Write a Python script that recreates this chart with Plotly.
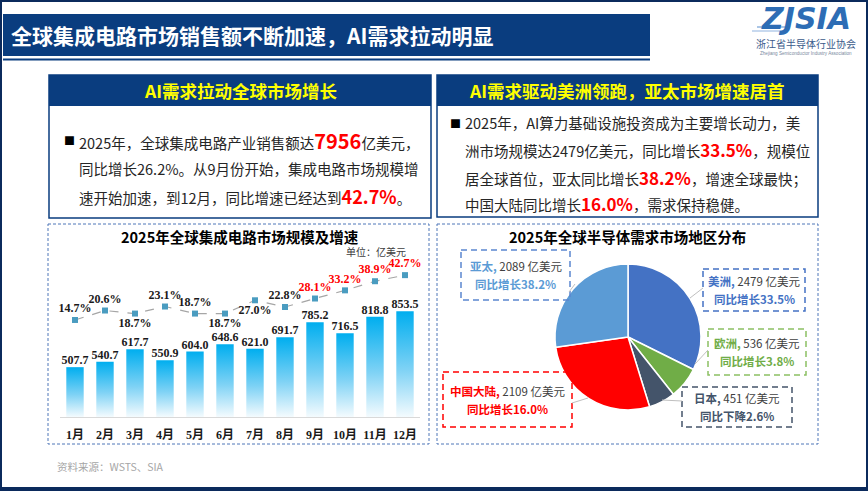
import plotly.graph_objects as go

# Données du graphique
mois = ['1月', '2月', '3月', '4月', '5月', '6月', '7月', '8月', '9月', '10月', '11月', '12月']
ventes = [507.7, 540.7, 617.7, 550.9, 604.0, 648.6, 621.0, 691.7, 785.2, 716.5, 818.8, 853.5]
croissance = [14.7, 20.6, 18.7, 23.1, 18.7, 18.7, 27.0, 22.8, 28.1, 33.2, 38.9, 42.7]

regions = ['美洲', '欧洲', '日本', '中国大陆', '亚太']
demande = [2479, 536, 451, 2109, 2089]
evol_region = ['同比增长33.5%', '同比增长3.8%', '同比下降2.6%', '同比增长16.0%', '同比增长38.2%']
couleurs_region = ['#4472c4', '#70ad47', '#44546a', '#ff0000', '#5b9bd5']

W, H = 868, 491
NAVY = '#0a3d7f'
CJK = 'Noto Sans CJK SC'
SERIF = 'Liberation Serif, Noto Sans CJK SC'


def fx(p):
    return p / W


def fy(p):
    return 1 - p / H


annotations = []
shapes = []


def texte(x, y, s, size, color='#262626', anchor='center', family=CJK):
    annotations.append(dict(x=fx(x), y=fy(y), xref='paper', yref='paper', text=s,
                            showarrow=False, xanchor=anchor, yanchor='middle',
                            font=dict(size=size, color=color, family=family)))


def rect(x0, y0, x1, y1, line=None, fill=None, dash=None, width=1):
    shapes.append(dict(type='rect', xref='paper', yref='paper',
                       x0=fx(x0), x1=fx(x1), y0=fy(y0), y1=fy(y1),
                       line=dict(color=line or 'rgba(0,0,0,0)', width=width if line else 0, dash=dash),
                       fillcolor=fill or 'rgba(0,0,0,0)', layer='below' if fill else 'above'))


def ligne(x0, y0, x1, y1, color, width=1):
    shapes.append(dict(type='line', xref='paper', yref='paper',
                       x0=fx(x0), x1=fx(x1), y0=fy(y0), y1=fy(y1),
                       line=dict(color=color, width=width)))


fig = go.Figure()

# Barres en dégradé (une trace par mois)
for i, v in enumerate(ventes):
    fig.add_trace(go.Scatter(
        x=[i - 0.29, i + 0.29, i + 0.29, i - 0.29, i - 0.29],
        y=[200, 200, v, v, 200], mode='lines', fill='toself',
        line=dict(width=0, color='rgba(0,0,0,0)'),
        fillgradient=dict(type='vertical',
                          colorscale=[[0, '#f4fbfe'], [0.45, '#7ed2f5'], [1, '#00aeef']]),
        hoverinfo='skip'))

fig.add_trace(go.Scatter(
    x=list(range(12)), y=ventes, mode='text', text=['<b>%.1f</b>' % v for v in ventes],
    textposition='top center', cliponaxis=False,
    textfont=dict(family=SERIF, size=12, color='#1a1a1a')))

pos = ['top center', 'top center', 'bottom center', 'top center', 'top center', 'bottom center',
       'bottom center', 'top center', 'top center', 'top center', 'top center', 'top center']
col = ['#1a1a1a'] * 8 + ['#ff0000'] * 4
fig.add_trace(go.Scatter(
    x=list(range(12)), y=croissance, yaxis='y2', mode='lines+markers+text',
    line=dict(color='#a6a6a6', width=1.2, dash='dash'),
    marker=dict(symbol='square', size=6, color='#4a9cc0'),
    text=['<b>%.1f%%</b>' % g for g in croissance], textposition=pos, cliponaxis=False,
    textfont=dict(family=SERIF, size=12, color=col)))

# Camembert
fig.add_trace(go.Pie(
    labels=regions, values=demande, sort=False, direction='clockwise', rotation=0,
    textinfo='none', hoverinfo='label+value',
    marker=dict(colors=couleurs_region, line=dict(color='white', width=1.5)),
    domain=dict(x=[fx(555), fx(701)], y=[fy(410), fy(264)])))

# Cadre général et bandeau titre
rect(1, 1, 867, 489, line='#0b2a5c', width=2)
rect(0, 487, 868, 491, fill='#0b2a5c')
rect(3, 14, 650, 56, fill=NAVY)
ligne(3, 59.5, 650, 59.5, NAVY, 2)
texte(9, 35, '<b>全球集成电路市场销售额不断加速，AI需求拉动明显</b>', 21, 'white', 'left')

# Logo
ligne(757, 27, 790, 27, '#8fb3de', 1.5)
ligne(752, 31, 786, 31, '#b6cdea', 1.5)
texte(806, 19, '<b><i>ZJSIA</i></b>', 30, '#2d6db5', family='DejaVu Sans')
texte(806, 44, '浙江省半导体行业协会', 10, '#3a5a8a')
texte(806, 53, 'Zhejiang Semiconductor Industry Association', 4.6, '#7a8aa0', family='Liberation Sans')

# Panneaux de texte
rect(49, 75, 431, 218, line=NAVY, width=1.5)
rect(49, 75, 431, 106, fill=NAVY)
texte(240, 91, '<b>AI需求拉动全球市场增长</b>', 17.5, '#ffff00')
rect(437, 75, 818, 217, line=NAVY, width=1.5)
rect(437, 75, 818, 106, fill=NAVY)
texte(627, 91, '<b>AI需求驱动美洲领跑，亚太市场增速居首</b>', 17.5, '#ffff00')


def rouge(s, size=18):
    return "<span style='color:#ff0000;font-size:%dpx'><b>%s</b></span>" % (size, s)


texte(62, 140, '■', 11, '#000', 'left')
texte(77, 140, '2025年，全球集成电路产业销售额达' + rouge('7956', 20) + '亿美元，', 14.5, anchor='left')
texte(77, 168, '同比增长26.2%。从9月份开始，集成电路市场规模增', 14.5, anchor='left')
texte(77, 196, '速开始加速，到12月，同比增速已经达到' + rouge('42.7%') + '。', 14.5, anchor='left')

texte(448, 123, '■', 11, '#000', 'left')
texte(463, 123, '2025年，AI算力基础设施投资成为主要增长动力，美', 14.5, anchor='left')
texte(463, 150, '洲市场规模达2479亿美元，同比增长' + rouge('33.5%', 17) + '，规模位', 14.5, anchor='left')
texte(463, 177, '居全球首位，亚太同比增长' + rouge('38.2%', 17) + '，增速全球最快；', 14.5, anchor='left')
texte(463, 203, '中国大陆同比增长' + rouge('16.0%', 17) + '，需求保持稳健。', 14.5, anchor='left')

# Cadres des graphiques
rect(48, 224, 429, 444, line='#4f76b8', dash='3px,2px', width=1)
rect(437, 224, 818, 444, line='#4f76b8', dash='3px,2px', width=1)
texte(240, 236, '<b>2025年全球集成电路市场规模及增速</b>', 14.5, '#000')
texte(408, 251, '单位：亿美元', 10, '#404040', 'right')
texte(627, 236, '<b>2025年全球半导体需求市场地区分布</b>', 14.5, '#000')

# Étiquettes du camembert
boites = {
    '美洲': (703, 269, 805, 311, '#4472c4'),
    '欧洲': (708, 329, 806, 375, '#8cc063'),
    '日本': (682, 387, 792, 427, '#44546a'),
    '中国大陆': (443, 372, 572, 427, '#ff0000'),
    '亚太': (461, 250, 570, 300, '#5b86d0'),
}
for nom, v, e, c in zip(regions, demande, evol_region, couleurs_region):
    x0, y0, x1, y1, bc = boites[nom]
    rect(x0, y0, x1, y1, line=bc, dash='6px,4px', width=1.5)
    xm, ym = (x0 + x1) / 2, (y0 + y1) / 2
    texte(xm, ym - 9, "<b>%s,</b> <span style='color:#404040'>%d 亿美元</span>" % (nom, v), 11.5, c)
    texte(xm, ym + 9, '<b>%s</b>' % e, 11.5, c)

for seg in [(690, 298, 703, 288), (708, 350, 695, 364), (662, 400, 682, 401),
            (572, 403, 588, 398), (569, 292, 575, 284)]:
    ligne(*seg, '#bfbfbf', 1)

texte(55, 466, '资料来源：WSTS、SIA', 10.5, '#a6a6a6', 'left')

fig.update_layout(
    width=W, height=H, margin=dict(l=0, r=0, t=0, b=0),
    paper_bgcolor='white', plot_bgcolor='rgba(0,0,0,0)', showlegend=False,
    xaxis=dict(domain=[fx(60), fx(420)], range=[-0.5, 11.5], tickvals=list(range(12)),
               ticktext=['<b>%s</b>' % m for m in mois], showline=True, linecolor='#d9d9d9',
               showgrid=False, zeroline=False, ticks='', ticklabelstandoff=7,
               tickfont=dict(family=SERIF, size=12, color='#1a1a1a'), fixedrange=True),
    yaxis=dict(domain=[fy(417), fy(250)], range=[200, 1231], visible=False),
    yaxis2=dict(overlaying='y', range=[-45.9, 58.4], visible=False),
    annotations=annotations, shapes=shapes,
)

# la page html a une marge de 8px par défaut
fig.write_html("out.html", config={'displayModeBar': False},
               post_script="document.body.style.margin='0';")
